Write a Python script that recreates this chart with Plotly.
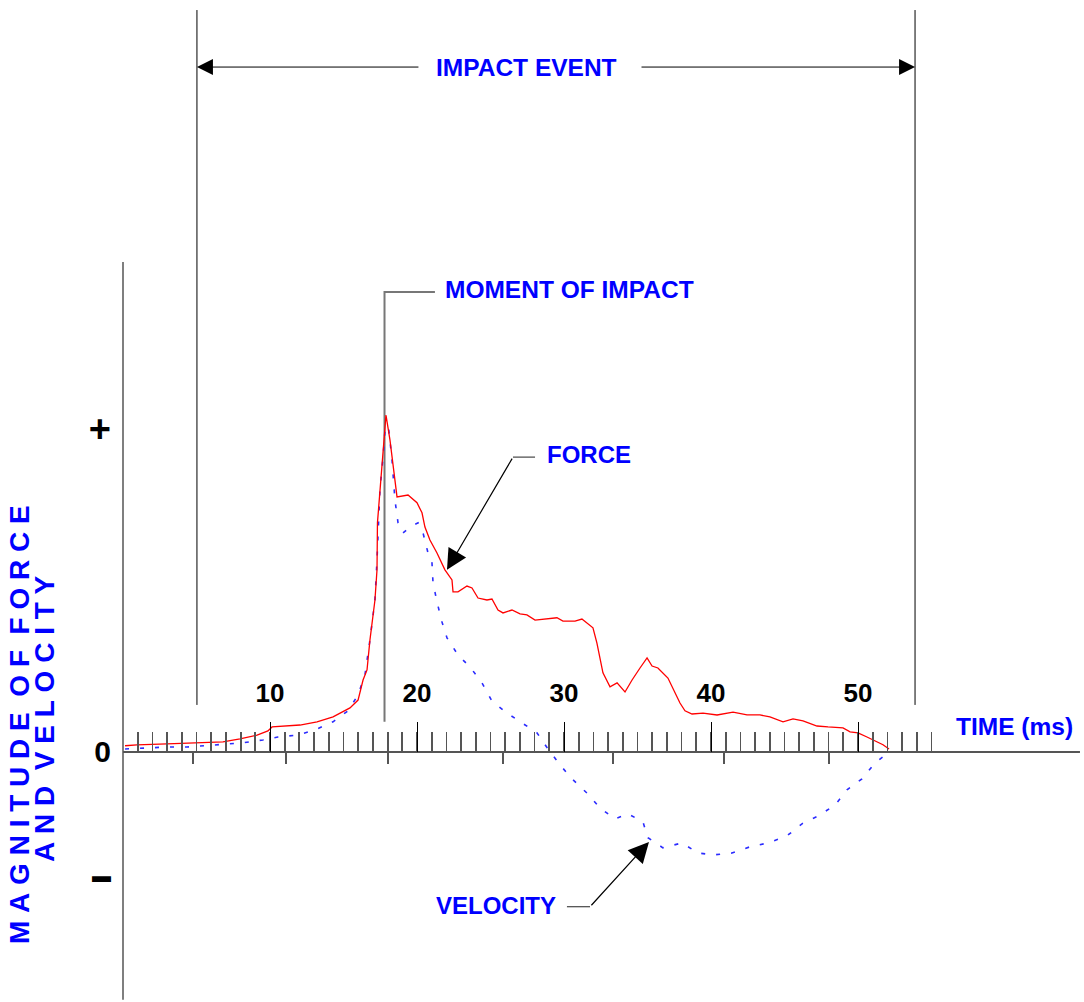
import plotly.graph_objects as go

# ---------------- data (time in ms, magnitude in arbitrary units: "+" = 1) ----------------
time_force = [0.14, 0.95, 2.99, 5.03, 6.80, 7.96, 9.12, 9.86, 10.14, 12.04, 13.20, 14.29, 15.44,
              15.99, 16.33, 16.60, 16.80, 17.14, 17.28, 17.31, 17.48, 17.69, 17.89, 18.16, 18.37,
              18.64, 19.39, 20.00, 20.34, 20.54, 20.88, 21.36, 21.90, 22.38, 22.45, 22.79, 23.40,
              23.74, 24.15, 24.76, 25.10, 25.51, 25.85, 26.46, 27.01, 27.48, 28.03, 28.71, 29.52,
              29.93, 30.75, 31.22, 31.56, 31.97, 32.24, 32.65, 33.13, 33.61, 34.15, 34.63, 35.17,
              35.65, 35.99, 36.39, 37.07, 37.55, 37.89, 38.23, 38.71, 39.46, 40.41, 41.50, 42.45,
              43.33, 44.01, 44.90, 45.58, 46.26, 47.21, 47.96, 48.98, 49.46, 50.00, 50.61, 51.16,
              51.70, 52.11]
force = [0.019, 0.022, 0.025, 0.028, 0.031, 0.040, 0.052, 0.065, 0.077, 0.083, 0.093, 0.108, 0.136,
         0.160, 0.222, 0.253, 0.346, 0.469, 0.562, 0.707, 0.809, 0.910, 1.040, 0.963, 0.880,
         0.787, 0.793, 0.769, 0.738, 0.694, 0.654, 0.614, 0.562, 0.531, 0.494, 0.494, 0.512,
         0.506, 0.475, 0.469, 0.472, 0.438, 0.429, 0.438, 0.426, 0.423, 0.407, 0.410, 0.414,
         0.404, 0.404, 0.410, 0.398, 0.383, 0.336, 0.244, 0.201, 0.213, 0.185, 0.222, 0.259,
         0.290, 0.265, 0.259, 0.228, 0.185, 0.151, 0.127, 0.117, 0.120, 0.114, 0.123, 0.114,
         0.114, 0.108, 0.093, 0.102, 0.096, 0.080, 0.077, 0.074, 0.062, 0.059, 0.046, 0.034,
         0.022, 0.009]

time_vel = [0.14, 1.63, 2.99, 4.35, 5.58, 6.94, 8.16, 9.52, 10.54, 11.90, 13.06, 14.29, 15.31,
            15.99, 16.46, 16.80, 17.14, 17.28, 17.48, 17.69, 17.89, 18.03, 18.30, 18.50, 18.71,
            19.05, 19.52, 20.07, 20.41, 20.75, 21.02, 21.09, 21.36, 21.70, 22.04, 22.79, 23.61,
            24.42, 25.10, 26.12, 27.14, 28.16, 28.91, 29.73, 30.54, 31.56, 32.45, 33.47, 34.35,
            35.37, 35.71, 36.73, 38.03, 39.12, 40.14, 41.43, 42.65, 43.88, 45.17, 46.19, 47.28,
            48.44, 49.25, 50.27, 51.16, 52.11]
velocity = [0.009, 0.012, 0.015, 0.015, 0.019, 0.022, 0.028, 0.037, 0.046, 0.052, 0.068, 0.093, 0.127,
            0.176, 0.238, 0.346, 0.469, 0.593, 0.809, 0.910, 1.031, 1.015, 0.901, 0.778, 0.707,
            0.676, 0.694, 0.707, 0.676, 0.614, 0.583, 0.522, 0.463, 0.401, 0.352, 0.299, 0.262,
            0.213, 0.157, 0.120, 0.090, 0.059, 0.009, -0.040, -0.083, -0.127, -0.173, -0.207, -0.191,
            -0.216, -0.265, -0.296, -0.281, -0.312, -0.318, -0.312, -0.293, -0.281, -0.259, -0.222, -0.198,
            -0.164, -0.117, -0.083, -0.034, 0.000]

major_ticks = [10, 20, 30, 40, 50]
major_labels = ["10", "20", "30", "40", "50"]
minor_ticks = list(range(1, 56))
lower_ticks = [4.76, 11.09, 18.03, 25.85, 33.33, 40.88, 48.03]
y_tick_vals = [0.99, 0.0, -0.37]
y_tick_text = ["<span style='font-size:38px'>+</span>", "0",
               "<span style='font-size:19px'>\u25AC</span>"]

impact_start, impact_end = 5.03, 53.88
moment_of_impact = 17.79

# ---------------- layout constants ----------------
X_MIN, X_MAX = -8.367, 65.374
Y_MIN, Y_MAX = -0.772, 2.321
X_AXIS_END = 65.1
Y_AXIS_TOP, Y_AXIS_BOTTOM = 1.512, -0.765

BLUE = "#0000ff"
FONT = "Liberation Sans, Arial, sans-serif"

x_pos = (0 - Y_MIN) / (Y_MAX - Y_MIN)
y_pos = (0 - X_MIN) / (X_MAX - X_MIN)

fig = go.Figure()

# axis lines
fig.add_trace(go.Scatter(x=[0, X_AXIS_END], y=[0, 0], xaxis="x2", mode="lines",
                         line=dict(color="#555555", width=2), hoverinfo="skip"))
fig.add_trace(go.Scatter(x=[0, 0], y=[Y_AXIS_TOP, Y_AXIS_BOTTOM], mode="lines",
                         line=dict(color="#555555", width=1.5), hoverinfo="skip"))

# impact event boundary lines
fig.add_trace(go.Scatter(x=[impact_start, impact_start, None, impact_end, impact_end],
                         y=[2.290, 0.145, None, 2.290, 0.145], mode="lines",
                         line=dict(color="black", width=1), hoverinfo="skip"))
# moment of impact marker
fig.add_trace(go.Scatter(x=[21.22, moment_of_impact, moment_of_impact], y=[1.420, 1.420, 0.093],
                         mode="lines", line=dict(color="#777777", width=2), hoverinfo="skip"))
# leaders
fig.add_trace(go.Scatter(x=[28.03, 26.53], y=[0.910, 0.910], mode="lines",
                         line=dict(color="#222222", width=1), hoverinfo="skip"))
fig.add_trace(go.Scatter(x=[30.20, 31.77], y=[-0.478, -0.478], mode="lines",
                         line=dict(color="#222222", width=1), hoverinfo="skip"))

# data curves
fig.add_trace(go.Scatter(x=time_vel, y=velocity, mode="lines", name="Velocity",
                         line=dict(color="#2b2bff", width=1.6, dash="4px,11px")))
fig.add_trace(go.Scatter(x=time_force, y=force, mode="lines", name="Force",
                         line=dict(color="#ff0000", width=1.3)))

annotations = [
    # impact event arrows
    dict(x=impact_start, y=2.114, ax=20.20, ay=2.114, xref="x", yref="y", axref="x", ayref="y",
         text="", showarrow=True, arrowhead=2, arrowsize=3.2, arrowwidth=1, arrowcolor="black"),
    dict(x=impact_end, y=2.114, ax=35.17, ay=2.114, xref="x", yref="y", axref="x", ayref="y",
         text="", showarrow=True, arrowhead=2, arrowsize=3.2, arrowwidth=1, arrowcolor="black"),
    # force / velocity pointers
    dict(x=22.04, y=0.562, ax=26.53, ay=0.910, xref="x", yref="y", axref="x", ayref="y",
         text="", showarrow=True, arrowhead=2, arrowsize=3.4, arrowwidth=1.2, arrowcolor="black"),
    dict(x=35.78, y=-0.278, ax=31.77, ay=-0.478, xref="x", yref="y", axref="x", ayref="y",
         text="", showarrow=True, arrowhead=2, arrowsize=3.4, arrowwidth=1.2, arrowcolor="black"),
    # labels
    dict(x=27.48, y=2.114, text="IMPACT EVENT", showarrow=False, xanchor="center", yanchor="middle",
         font=dict(family=FONT, size=24.5, color=BLUE, weight="bold")),
    dict(x=21.77, y=1.426, text="MOMENT OF IMPACT", showarrow=False, xanchor="left", yanchor="middle",
         font=dict(family=FONT, size=24.5, color=BLUE, weight="bold")),
    dict(x=28.71, y=0.917, text="FORCE", showarrow=False, xanchor="left", yanchor="middle",
         font=dict(family=FONT, size=24, color=BLUE, weight="bold")),
    dict(x=29.59, y=-0.475, text="VELOCITY", showarrow=False, xanchor="right", yanchor="middle",
         font=dict(family=FONT, size=24, color=BLUE, weight="bold")),
    dict(x=64.76, y=0.077, text="TIME (ms)", showarrow=False, xanchor="right", yanchor="middle",
         font=dict(family=FONT, size=24.5, color=BLUE, weight="bold")),
]

nb = "\u00a0"
line1 = (nb * 2).join(nb.join(w) for w in "MAGNITUDE OF FORCE".split())
line2 = (nb * 2).join(nb.join(w) for w in "AND VELOCITY".split())
annotations += [
    dict(x=19 / 1084, y=(1002 - 725) / 1002, xref="paper", yref="paper", text=line1, textangle=-90,
         showarrow=False, xanchor="center", yanchor="middle",
         font=dict(family=FONT, size=28, color=BLUE, weight="bold")),
    dict(x=44 / 1084, y=(1002 - 719) / 1002, xref="paper", yref="paper", text=line2, textangle=-90,
         showarrow=False, xanchor="center", yanchor="middle",
         font=dict(family=FONT, size=28, color=BLUE, weight="bold")),
]

fig.update_layout(
    width=1084, height=1002,
    margin=dict(l=0, r=0, t=0, b=0),
    paper_bgcolor="white", plot_bgcolor="white",
    showlegend=False,
    annotations=annotations,
    xaxis=dict(range=[X_MIN, X_MAX], domain=[0, 1], anchor="free", position=x_pos, side="top",
               showline=False, showgrid=False, zeroline=False,
               tickmode="array", tickvals=major_ticks, ticktext=major_labels,
               ticks="outside", ticklen=30, tickwidth=1, tickcolor="black",
               ticklabelstandoff=10,
               tickfont=dict(family=FONT, size=26, color="black", weight="bold"),
               minor=dict(tickmode="array", tickvals=minor_ticks, ticks="outside", ticklen=20,
                          tickwidth=1.8, tickcolor="#555555", showgrid=False)),
    xaxis2=dict(range=[X_MIN, X_MAX], overlaying="x", anchor="free", position=x_pos, side="bottom",
                showline=False, showgrid=False, zeroline=False,
                tickmode="array", tickvals=lower_ticks, showticklabels=False,
                ticks="outside", ticklen=11, tickwidth=1.5, tickcolor="#555555"),
    yaxis=dict(range=[Y_MIN, Y_MAX], domain=[0, 1], anchor="free", position=y_pos,
               showline=False, showgrid=False, zeroline=False,
               tickmode="array", tickvals=y_tick_vals, ticktext=y_tick_text,
               ticks="", ticklabelstandoff=12,
               tickfont=dict(family=FONT, size=30, color="black", weight="bold")),
)

fig.write_html("out.html", config={"displayModeBar": False, "staticPlot": True},
               post_script="document.body.style.margin='0';")
